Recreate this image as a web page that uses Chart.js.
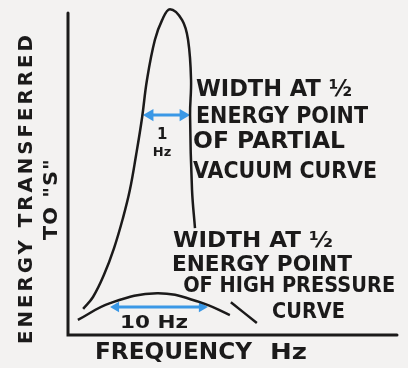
<!DOCTYPE html>
<html>
<head>
<meta charset="utf-8">
<script src="https://cdn.jsdelivr.net/npm/chart.js@4.4.0/dist/chart.umd.min.js"></script>
<style>
    html, body { margin: 0; padding: 0; background: #f3f2f1; }
    #wrap { width: 408px; height: 368px; }
</style>
</head>
<body>
<div id="wrap"><canvas id="resonanceChart"></canvas></div>
<script>
// Partial vacuum curve (sharp resonance) - frequency vs energy, arbitrary units
const vacuumFreq   = [4.6, 7.6, 10.9, 14.0, 16.7, 18.8, 20.7, 22.5, 24.0, 26.4, 28.6, 31.0, 34.7, 36.5, 37.4, 37.1, 37.7, 38.6];
const vacuumEnergy = [8.1, 11.8, 18.6, 27.0, 36.3, 45.0, 55.9, 67.4, 79.2, 91.6, 97.8, 101.2, 97.8, 91.6, 79.2, 68.3, 45.0, 33.2];

// High pressure curve (broad resonance)
const pressureFreq   = [3.0, 12.8, 27.1, 40.1, 49.2];
const pressureEnergy = [4.7, 9.9, 13.0, 10.2, 6.2];
const tailFreq   = [49.5, 57.4];
const tailEnergy = [10.2, 3.7];

// Width at half energy point (arrows)
const vacuumWidthFreq     = [24.9, 35.0];
const vacuumWidthEnergy   = [68.3, 68.3];
const pressureWidthFreq   = [14.6, 40.7];
const pressureWidthEnergy = [8.7, 8.7];

// Hand lettered notes: text, anchor in data units, font size, lettered width
const notes = [
    { text: 'WIDTH AT ½',       x: 38.9, y: 76.1, size: 23, w: 156 },
    { text: 'ENERGY POINT',     x: 38.9, y: 67.7, size: 23, w: 172 },
    { text: 'OF PARTIAL',       x: 38.0, y: 59.9, size: 23, w: 152 },
    { text: 'VACUUM CURVE',     x: 38.0, y: 50.6, size: 23, w: 184 },
    { text: '1',                x: 28.6, y: 62.1, size: 15, align: 'center' },
    { text: 'Hz',               x: 28.6, y: 56.5, size: 13, align: 'center' },
    { text: 'WIDTH AT ½',       x: 31.9, y: 28.9, size: 21, w: 160 },
    { text: 'ENERGY POINT',     x: 31.6, y: 21.7, size: 21, w: 180 },
    { text: 'OF HIGH PRESSURE', x: 35.0, y: 14.9, size: 21, w: 212 },
    { text: 'CURVE',            x: 62.0, y: 7.1,  size: 21, w: 73 },
    { text: '10 Hz',            x: 15.8, y: 3.7,  size: 18, w: 68 }
];

const ink = '#1b1a1a';
const blue = '#3a98e6';

function toPoints(xs, ys) {
    return xs.map((x, i) => ({ x: x, y: ys[i] }));
}

// draw bold text, squeezed/stretched horizontally to a given width
function drawText(ctx, text, px, py, size, align, width, spacing) {
    ctx.save();
    ctx.font = 'bold ' + size + 'px "DejaVu Sans"';
    ctx.letterSpacing = (spacing || 0) + 'px';
    const natural = ctx.measureText(text).width;
    const sx = width ? width / natural : 1;
    ctx.translate(px, py);
    ctx.scale(sx, 1);
    ctx.textAlign = align;
    ctx.textBaseline = 'middle';
    ctx.fillStyle = ink;
    ctx.fillText(text, 0, 0);
    ctx.restore();
}

// Axes drawn as an L along the chart area
const axisPlugin = {
    id: 'handAxes',
    beforeDatasetsDraw(chart) {
        const { ctx, chartArea: a } = chart;
        ctx.save();
        ctx.strokeStyle = ink;
        ctx.lineWidth = 3;
        ctx.lineCap = 'round';
        ctx.beginPath();
        ctx.moveTo(a.left, a.top);
        ctx.lineTo(a.left, a.bottom);
        ctx.lineTo(a.right, a.bottom);
        ctx.stroke();
        ctx.restore();
    }
};

const notesPlugin = {
    id: 'notes',
    afterDatasetsDraw(chart) {
        const { ctx, chartArea: a } = chart;
        const xs = chart.scales.x, ys = chart.scales.y;

        notes.forEach(n => {
            drawText(ctx, n.text, xs.getPixelForValue(n.x), ys.getPixelForValue(n.y),
                n.size, n.align || 'left', n.w, 0);
        });

        // axis titles
        drawText(ctx, 'FREQUENCY', a.left + 27, a.bottom + 18, 23, 'left', 157, 0);
        drawText(ctx, 'Hz', a.left + 202, a.bottom + 18, 22, 'left', 37, 0);

        ctx.save();
        ctx.translate(a.left - 41, (a.top + a.bottom) / 2 + 14);
        ctx.rotate(-Math.PI / 2);
        drawText(ctx, 'ENERGY TRANSFERRED', 0, 0, 20, 'center', 312, 3);
        drawText(ctx, 'TO "S"', -11, 25, 20, 'center', 82, 1);
        ctx.restore();
    }
};

function curve(xs, ys) {
    return {
        data: toPoints(xs, ys),
        showLine: true,
        borderColor: ink,
        borderWidth: 2.5,
        pointRadius: 0,
        tension: 0.4,
        clip: false
    };
}

function arrow(xs, ys, size) {
    return {
        data: toPoints(xs, ys),
        showLine: true,
        borderColor: blue,
        backgroundColor: blue,
        borderWidth: 3,
        pointStyle: 'triangle',
        pointRadius: size,
        pointRotation: [-90, 90],
        pointBorderWidth: 0,
        tension: 0,
        clip: false
    };
}

const ctx = document.getElementById('resonanceChart').getContext('2d');
new Chart(ctx, {
    type: 'scatter',
    data: {
        datasets: [
            curve(vacuumFreq, vacuumEnergy),
            curve(pressureFreq, pressureEnergy),
            curve(tailFreq, tailEnergy),
            arrow(vacuumWidthFreq, vacuumWidthEnergy, 7),
            arrow(pressureWidthFreq, pressureWidthEnergy, 6)
        ]
    },
    options: {
        responsive: true,
        maintainAspectRatio: false,
        animation: false,
        layout: { padding: { left: 68, right: 11, top: 13, bottom: 33 } },
        scales: {
            x: { type: 'linear', min: 0, max: 100, display: false },
            y: { type: 'linear', min: 0, max: 100, display: false }
        },
        plugins: {
            legend: { display: false },
            tooltip: { enabled: false }
        }
    },
    plugins: [axisPlugin, notesPlugin]
});
</script>
</body>
</html>
